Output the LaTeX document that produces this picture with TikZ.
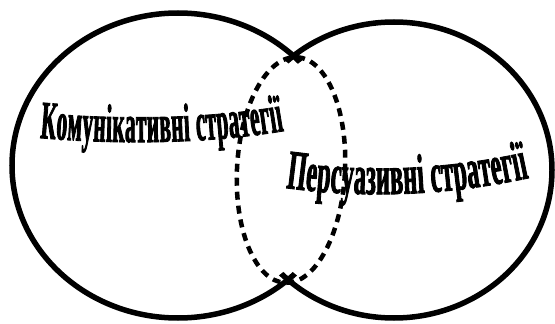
\documentclass[tikz,border=0pt]{standalone}
\usepackage{fontspec}
\usetikzlibrary{decorations.text}
\newfontfamily\condA{Liberation Serif}[UprightFont={* Bold}, FakeStretch=0.39, FakeBold=1.5]
\newfontfamily\condB{Liberation Serif}[UprightFont={* Bold}, FakeStretch=0.43, FakeBold=1.5]
\tikzset{
  ring/.style={line width=5.5pt, line cap=round},
  overlapdash/.style={line width=4.5pt, dash pattern=on 8pt off 6pt},
  arctext/.style={decorate, decoration={text along path, text align=fit to path}}
}
\begin{document}
\begin{tikzpicture}[x=1pt,y=-1pt]
\useasboundingbox[fill=white] (0,0) rectangle (555,324);
\coordinate (cl) at (178,165.5);
\coordinate (cr) at (394,170);
\coordinate (co) at (291,170);
% left ring, outside the right one
\begin{scope}[even odd rule]
  \clip (-10,-10) rectangle (570,340) (cr) ellipse [x radius=149, y radius=139];
  \draw[ring] (cl) ellipse [x radius=166, y radius=152.5];
\end{scope}
% right ring, outside the left one
\begin{scope}[even odd rule]
  \clip (-10,-10) rectangle (570,340) (cl) ellipse [x radius=157, y radius=143.5];
  \draw[ring] (cr) ellipse [x radius=158, y radius=148];
\end{scope}
% dashed overlap
\draw[overlapdash, rotate around={-3:(co)}] (co) ellipse [x radius=54, y radius=113];
% texts
\coordinate (t1a) at (40,138);
\coordinate (t1b) at (284,131);
\coordinate (t2a) at (286,188);
\coordinate (t2b) at (529,178);
\path[arctext, decoration={text={|\condA\fontsize{54}{54}\selectfont|Комунікативні стратегії}}]
  (t1a) .. controls (110,144) and (200,145) .. (t1b);
\path[arctext, decoration={text={|\condB\fontsize{56}{56}\selectfont|Персуазивні стратегії}}]
  (t2a) .. controls (360,198) and (440,197) .. (t2b);
\end{tikzpicture}
\end{document}
